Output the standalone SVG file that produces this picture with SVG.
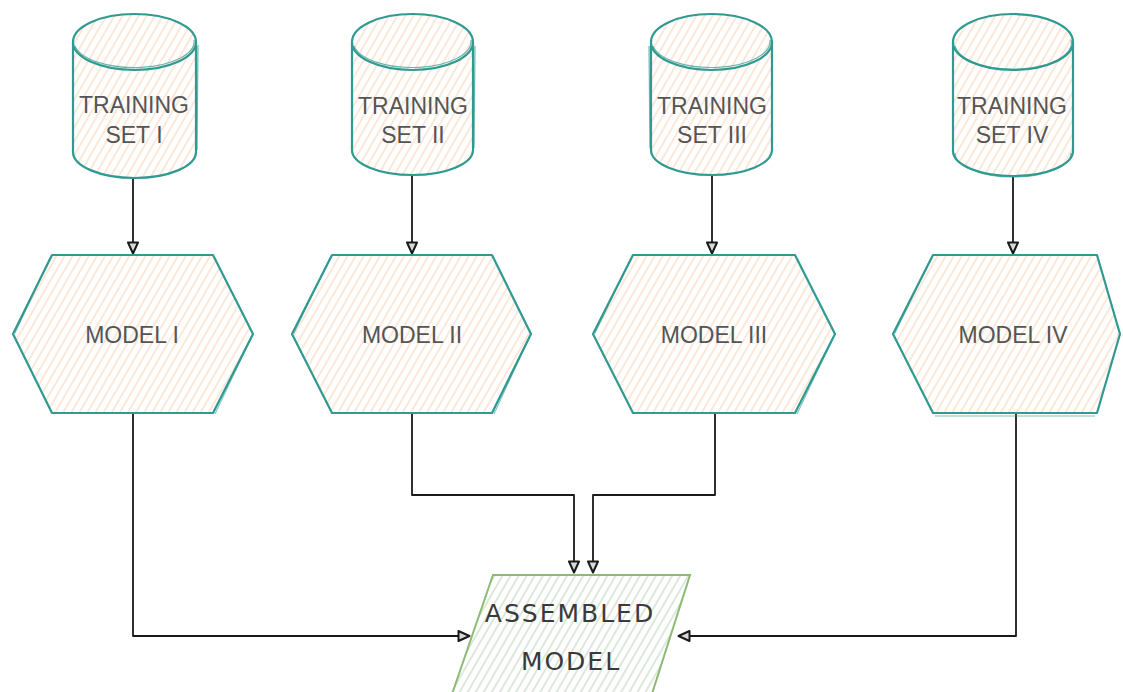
<svg xmlns="http://www.w3.org/2000/svg" width="1123" height="692" viewBox="0 0 1123 692">
<defs>
<pattern id="hatchP" width="7" height="7" patternUnits="userSpaceOnUse" patternTransform="rotate(30)">
<rect width="7" height="7" fill="#ffffff"/>
<line x1="2" y1="0" x2="2" y2="7" stroke="#fbe3cf" stroke-width="1.6"/>
</pattern>
<pattern id="hatchG" width="7" height="7" patternUnits="userSpaceOnUse" patternTransform="rotate(30)">
<rect width="7" height="7" fill="#ffffff"/>
<line x1="2" y1="0" x2="2" y2="7" stroke="#d3e3d1" stroke-width="1.6"/>
</pattern>
<marker id="arr" viewBox="0 0 14 14" refX="13" refY="7" markerWidth="14" markerHeight="14" markerUnits="userSpaceOnUse" orient="auto">
<path d="M1.5,2 L12.5,7 L1.5,12 Z" fill="#d9d9d9" stroke="#1a1a1a" stroke-width="2" stroke-linejoin="round"/>
</marker>
<style>
.cyl{fill:url(#hatchP);stroke:#2e9a90;stroke-width:2.2;stroke-linejoin:round}
.cyl2{fill:none;stroke:#2e9a90;stroke-width:1.2;opacity:0.7}
.hex{fill:url(#hatchP);stroke:#2e9a90;stroke-width:2.2;stroke-linejoin:round}
.hex2{fill:none;stroke:#2e9a90;stroke-width:1.1;opacity:0.6}
.par{fill:url(#hatchG);stroke:#8dbb74;stroke-width:2}
.lbl{font-family:"Liberation Sans",Arial,sans-serif;font-size:23px;fill:#555555;text-anchor:middle}
.hand{font-family:"DejaVu Sans",sans-serif;font-size:25px;fill:#3a3a3a;text-anchor:middle;letter-spacing:2px}
.con{fill:none;stroke:#1a1a1a;stroke-width:1.8;stroke-linejoin:round}
</style>
</defs>
<rect width="1123" height="692" fill="#ffffff"/>

<g id="connectors">
<path class="con" d="M133,178 L133,254" marker-end="url(#arr)"/>
<path class="con" d="M412,176 L412,254" marker-end="url(#arr)"/>
<path class="con" d="M712,176 L712,254" marker-end="url(#arr)"/>
<path class="con" d="M1013,177 L1013,254" marker-end="url(#arr)"/>
<path class="con" d="M133,413 L133,636 L470,636" marker-end="url(#arr)"/>
<path class="con" d="M412,413 L412,495 L574,495 L574,573" marker-end="url(#arr)"/>
<path class="con" d="M715,413 L715,495 L593,495 L593,573" marker-end="url(#arr)"/>
<path class="con" d="M1016,413 L1016,636 L678,636" marker-end="url(#arr)"/>
</g>

<g id="set1">
<path class="cyl" d="M73,42 A61.5,28 0 0 1 196,42 L196,152 A61.5,26 0 0 1 73,152 Z"/>
<path class="cyl" d="M73,42 A61.5,28 0 0 0 196,42" fill="none"/>
<path class="cyl2" d="M75,46 A60,26 0 0 0 194,40 M198,45 L197,150"/>
<text class="lbl" x="134" y="113">TRAINING</text>
<text class="lbl" x="134" y="143">SET I</text>
</g>
<g id="set2">
<path class="cyl" d="M352,42 A60.5,28 0 0 1 473,42 L473,150 A60.5,25 0 0 1 352,150 Z"/>
<path class="cyl" d="M352,42 A60.5,28 0 0 0 473,42" fill="none"/>
<path class="cyl2" d="M354,46 A59,26 0 0 0 471,40 M475,46 L474,148"/>
<text class="lbl" x="413" y="114">TRAINING</text>
<text class="lbl" x="413" y="143">SET II</text>
</g>
<g id="set3">
<path class="cyl" d="M651,42 A60.5,28 0 0 1 772,42 L772,150 A60.5,25 0 0 1 651,150 Z"/>
<path class="cyl" d="M651,42 A60.5,28 0 0 0 772,42" fill="none"/>
<path class="cyl2" d="M653,46 A59,26 0 0 0 770,40 M649,46 L650,148"/>
<text class="lbl" x="712" y="114">TRAINING</text>
<text class="lbl" x="712" y="143">SET III</text>
</g>
<g id="set4">
<path class="cyl" d="M953,42 A60,28 0 0 1 1073,42 L1073,151 A60,25 0 0 1 953,151 Z"/>
<path class="cyl" d="M953,42 A60,28 0 0 0 1073,42" fill="none"/>
<path class="cyl2" d="M955,46 A58,26 0 0 0 1071,40 M955,153 A58,24 0 0 0 1071,153"/>
<text class="lbl" x="1012" y="114">TRAINING</text>
<text class="lbl" x="1012" y="143">SET IV</text>
</g>

<g id="model1">
<path class="hex" d="M52,255 L213,255 L253,334 L213,413 L52,413 L13,334 Z"/>
<path class="hex2" d="M50,258 L15,333 M215,414 L251,338"/>
<text class="lbl" x="132" y="343">MODEL I</text>
</g>
<g id="model2">
<path class="hex" d="M332,255 L492,255 L531,334 L492,413 L332,413 L292,334 Z"/>
<path class="hex2" d="M330,258 L294,333 M494,414 L529,338"/>
<text class="lbl" x="412" y="343">MODEL II</text>
</g>
<g id="model3">
<path class="hex" d="M633,255 L795,255 L835,334 L795,413 L633,413 L593,334 Z"/>
<path class="hex2" d="M631,258 L595,333 M797,414 L833,338"/>
<text class="lbl" x="714" y="343">MODEL III</text>
</g>
<g id="model4">
<path class="hex" d="M933,255 L1097,255 L1120,334 L1097,413 L933,413 L893,334 Z"/>
<path class="hex2" d="M931,258 L895,333 M935,416 L1095,416"/>
<text class="lbl" x="1013" y="343">MODEL IV</text>
</g>

<g id="assembled">
<path class="par" d="M493,575 L690,575 L650,700 L450,700 Z"/>
<text class="hand" x="570" y="622">ASSEMBLED</text>
<text class="hand" x="571" y="670">MODEL</text>
</g>
</svg>
